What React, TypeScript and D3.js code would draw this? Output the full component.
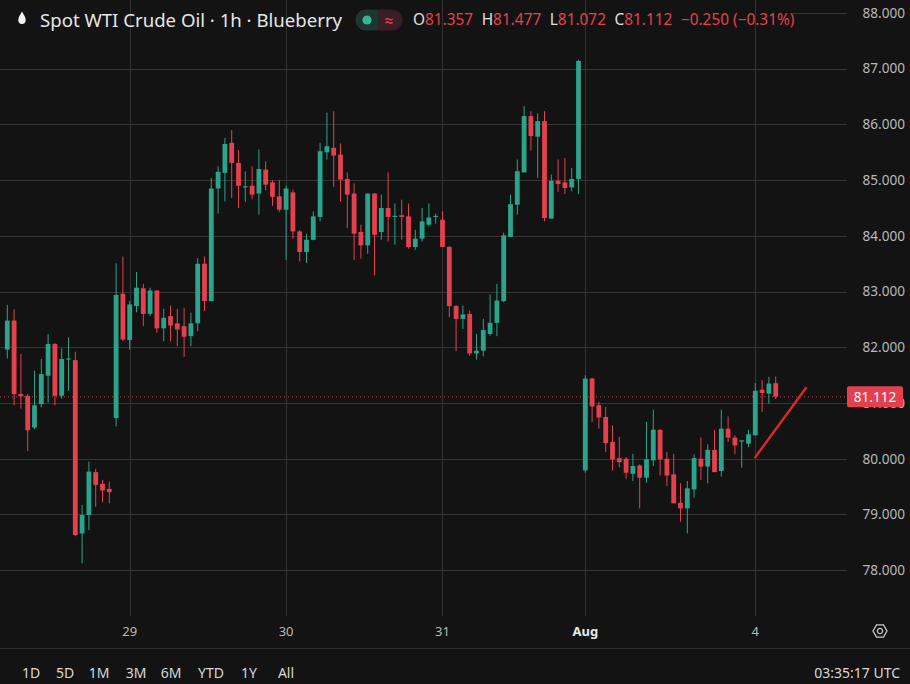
import React from 'react';
import * as d3 from 'd3';

const W = 910;
const H = 684;

// OHLC data, 1h bars (index 0 .. 113)
const opens = [
  81.96, 82.48, 81.16, 81.13, 80.56, 80.98, 81.49, 82.06, 81.13, 81.78,
  81.77, 78.66, 78.99, 79.76, 79.55, 79.46, 80.73, 82.96, 82.13, 82.74,
  83.06, 82.60, 83.02, 82.34, 82.56, 82.43, 82.38, 82.20, 82.43, 83.50,
  82.83, 84.85, 85.13, 85.67, 85.31, 84.87, 84.90, 84.76, 85.19, 84.96,
  84.71, 84.47, 84.78, 84.08, 83.71, 83.93, 84.34, 85.50, 85.58, 85.46,
  85.02, 84.76, 84.07, 83.83, 84.76, 84.07, 84.50, 84.34, 84.37, 84.35,
  83.80, 83.95, 84.20, 84.34, 84.29, 83.80, 82.74, 82.51, 82.60, 81.89,
  81.94, 82.24, 82.44, 82.83, 83.98, 84.56, 85.14, 86.15, 85.78, 86.06,
  84.31, 84.99, 84.96, 84.87, 85.02, 79.79, 81.44, 80.96, 80.75, 80.30,
  80.01, 80.00, 79.73, 79.88, 79.66, 79.97, 80.52, 80.00, 79.72, 79.21,
  79.11, 79.45, 80.00, 79.86, 80.16, 79.78, 80.54, 80.38, 80.31, 80.27,
  80.42, 81.24, 81.17, 81.357,
];
const highs = [
  82.76, 82.68, 81.88, 81.16, 81.58, 81.79, 82.24, 82.08, 81.98, 82.18,
  81.92, 79.17, 79.95, 79.82, 79.62, 79.59, 83.51, 83.63, 82.83, 83.35,
  83.14, 83.07, 83.03, 82.69, 82.75, 82.69, 82.71, 82.62, 83.60, 83.63,
  85.04, 85.25, 85.76, 85.90, 85.54, 85.16, 85.25, 85.55, 85.34, 85.00,
  85.00, 84.90, 84.83, 84.10, 84.04, 84.44, 85.67, 86.21, 86.24, 85.66,
  85.14, 84.94, 84.20, 84.76, 84.77, 84.74, 85.14, 84.58, 84.65, 84.58,
  84.11, 84.50, 84.58, 84.40, 84.44, 83.82, 82.76, 82.75, 82.66, 82.24,
  82.51, 82.95, 83.14, 84.06, 84.74, 85.37, 86.33, 86.24, 86.20, 86.24,
  85.10, 85.37, 85.40, 85.22, 87.16, 81.50, 81.45, 81.02, 80.93, 80.60,
  80.39, 80.03, 80.09, 79.90, 80.66, 80.88, 80.53, 80.12, 80.09, 79.56,
  79.60, 80.08, 80.38, 80.26, 80.52, 80.88, 80.76, 80.42, 80.34, 80.52,
  81.36, 81.41, 81.47, 81.477,
];
const lows = [
  81.80, 80.96, 80.90, 80.14, 80.53, 80.92, 81.01, 80.96, 81.08, 81.22,
  78.61, 78.12, 78.72, 79.14, 79.22, 79.20, 80.58, 82.11, 81.96, 82.63,
  82.38, 82.56, 82.26, 82.11, 82.11, 82.02, 81.83, 82.02, 82.29, 82.65,
  82.82, 84.40, 84.62, 84.68, 84.50, 84.61, 84.66, 84.38, 84.82, 84.54,
  84.43, 83.57, 83.95, 83.54, 83.51, 83.92, 84.26, 85.37, 84.88, 84.62,
  84.14, 83.57, 83.59, 83.68, 83.29, 83.93, 83.90, 83.84, 83.93, 83.77,
  83.75, 83.90, 84.17, 84.22, 83.80, 82.54, 81.93, 82.33, 81.85, 81.78,
  81.84, 82.21, 82.20, 82.81, 83.98, 84.38, 85.14, 85.53, 85.04, 84.26,
  84.31, 84.79, 84.75, 84.80, 84.75, 79.75, 80.66, 80.54, 80.12, 79.79,
  79.85, 79.64, 79.60, 79.11, 79.57, 79.87, 79.70, 79.51, 79.20, 78.87,
  78.66, 79.30, 79.62, 79.56, 79.76, 79.68, 80.30, 80.08, 79.84, 80.21,
  80.42, 80.84, 80.99, 81.072,
];
const closes = [
  82.48, 81.16, 81.12, 80.51, 80.96, 81.52, 82.06, 81.13, 81.79, 81.80,
  78.63, 78.99, 79.77, 79.53, 79.43, 79.40, 82.94, 82.14, 82.77, 83.07,
  82.60, 83.02, 82.34, 82.53, 82.39, 82.32, 82.19, 82.43, 83.50, 82.83,
  84.85, 85.15, 85.65, 85.31, 84.90, 84.89, 84.74, 85.20, 84.92, 84.70,
  84.47, 84.85, 84.08, 83.71, 83.93, 84.35, 85.52, 85.61, 85.44, 85.01,
  84.74, 84.04, 83.83, 84.76, 84.02, 84.50, 84.34, 84.36, 84.34, 83.80,
  83.95, 84.26, 84.33, 84.36, 83.80, 82.74, 82.51, 82.59, 81.89, 81.94,
  82.31, 82.44, 82.84, 84.01, 84.57, 85.16, 86.15, 85.79, 86.06, 84.32,
  84.99, 84.93, 84.86, 85.02, 87.14, 81.44, 80.94, 80.74, 80.28, 79.99,
  79.94, 79.75, 79.87, 79.66, 79.99, 80.52, 79.99, 79.70, 79.20, 79.11,
  79.47, 80.01, 79.86, 80.16, 79.76, 80.54, 80.38, 80.24, 80.33, 80.44,
  81.22, 81.18, 81.35, 81.112,
];

const priceTicks = [78, 79, 80, 81, 82, 83, 84, 85, 86, 87, 88];
const dayLabels = ['29', '30', '31', 'Aug', '4'];
const dayBars = [18, 41, 64, 85, 110];
const rangeButtons = ['1D', '5D', '1M', '3M', '6M', 'YTD', '1Y', 'All'];
const trendBars = [110, 117.45];
const trendPrices = [80.03, 81.27];
const lastPrice = 81.112;
const legendValues = ['81.357', '81.477', '81.072', '81.112'];
const legendKeys = ['O', 'H', 'L', 'C'];
const changeText = '−0.250 (−0.31%)';

// layout
const BG = '#131313';
const GRID = '#343434';
const UP = '#2ba48b';
const DOWN = '#e4414f';
const FONT = '"Noto Sans", Roboto, sans-serif';
const plotRight = 847;
const buttonX = [31, 65, 99, 136, 171, 211, 249, 286];

export default function App() {
  const n = opens.length;
  const x = d3.scaleLinear().domain([0, n - 1]).range([7.3, 7.3 + (n - 1) * 6.8]);
  const y = d3.scaleLinear().domain([78, 88]).range([570.2, 13]);
  const bodyW = 4.8;
  const fmt = d3.format('.3f');
  const trend = d3.line<number>()
    .x((_, i) => x(trendBars[i]))
    .y((d) => y(d));

  return (
    <svg width={W} height={H} viewBox={`0 0 ${W} ${H}`}
      style={{ position: 'absolute', left: 0, top: 0, display: 'block' }}
      fontFamily={FONT}>
      <rect x={0} y={0} width={W} height={H} fill={BG} />
      {/* horizontal grid */}
      {priceTicks.map((p) => (
        <line key={'h' + p} x1={0} x2={plotRight} y1={Math.round(y(p)) + 0.5} y2={Math.round(y(p)) + 0.5}
          stroke={GRID} strokeWidth={1} />
      ))}
      {/* legend backdrop hiding grid under legend */}
      <rect x={0} y={4} width={793} height={22} fill={BG} />
      {/* vertical grid */}
      {dayBars.map((b) => (
        <line key={'v' + b} x1={Math.round(x(b)) + 0.5} x2={Math.round(x(b)) + 0.5} y1={0} y2={616}
          stroke={GRID} strokeWidth={1} />
      ))}
      {/* last price dotted line */}
      <line x1={0} x2={plotRight} y1={y(lastPrice)} y2={y(lastPrice)} stroke={DOWN}
        strokeWidth={1} strokeDasharray="1,3" opacity={0.85} />
      {/* candles */}
      {opens.map((o, i) => {
        const c = closes[i];
        const up = c >= o;
        const col = up ? UP : DOWN;
        const cx = x(i);
        const top = y(Math.max(o, c));
        const bot = y(Math.min(o, c));
        return (
          <g key={'c' + i}>
            <line x1={cx} x2={cx} y1={y(highs[i])} y2={y(lows[i])} stroke={col} strokeWidth={1} />
            <rect x={cx - bodyW / 2} y={top} width={bodyW} height={Math.max(1, bot - top)} fill={col} />
          </g>
        );
      })}
      {/* trend line */}
      <path d={trend(trendPrices) || ''} stroke="#e0262c" strokeWidth={2.4} fill="none" strokeLinecap="round" />
      {/* price axis labels */}
      {priceTicks.map((p) => (
        <text key={'t' + p} x={905} y={y(p)} dy="0.35em" textAnchor="end" fontSize={13.6} fill="#b8b8b8">
          {fmt(p)}
        </text>
      ))}
      {/* last price label */}
      <rect x={plotRight} y={y(lastPrice) - 10.5} width={56} height={21} rx={2} fill={DOWN} />
      <text x={plotRight + 28} y={y(lastPrice)} dy="0.35em" textAnchor="middle" fontSize={13.6}
        fill="#ffffff">{fmt(lastPrice)}</text>
      {/* time axis labels */}
      {dayLabels.map((d, i) => (
        <text key={'d' + d} x={x(dayBars[i])} y={631} dy="0.35em" textAnchor="middle" fontSize={13}
          fill={d === 'Aug' ? '#e8e8e8' : '#b8b8b8'} fontWeight={d === 'Aug' ? 700 : 400}>
          {d}
        </text>
      ))}
      {/* gear icon */}
      <g transform="translate(880,631)" fill="none" stroke="#c8c8c8" strokeWidth={1.3}>
        <path d={d3.range(6).map((k) => {
          const a = Math.PI / 3 * k;
          return (k === 0 ? 'M' : 'L') + (7 * Math.cos(a)).toFixed(2) + ',' + (7 * Math.sin(a)).toFixed(2);
        }).join('') + 'Z'} />
        <circle r={2.6} />
      </g>
      {/* separator */}
      <line x1={0} x2={W} y1={648.5} y2={648.5} stroke="#2c2c2c" strokeWidth={1} />
      {/* bottom toolbar */}
      {rangeButtons.map((b, i) => (
        <text key={'b' + b} x={buttonX[i]} y={673} dy="0.35em" textAnchor="middle" fontSize={14}
          fill="#d8d8d8">{b}</text>
      ))}
      <text x={900} y={673} dy="0.35em" textAnchor="end" fontSize={14} fill="#d8d8d8">03:35:17 UTC</text>
      {/* legend */}
      <path d="M22,11.5 C20,15 18.3,17.3 18.3,20.2 A3.7,3.7 0 0 0 25.7,20.2 C25.7,17.3 24,15 22,11.5 Z" fill="#f2f2f2" />
      <text x={40} y={20} dy="0.35em" fontSize={18.6} fill="#e6e6e6">Spot WTI Crude Oil · 1h · Blueberry</text>
      <g>
        <path d="M366,9.5 H378 V30.5 H366 A10.5,10.5 0 0 1 366,9.5 Z" fill="#1d3630" />
        <path d="M378,9.5 H392 A10.5,10.5 0 0 1 392,30.5 H378 Z" fill="#3a1d26" />
        <circle cx={367} cy={20} r={4.6} fill="#3ab592" />
        <text x={389} y={20} dy="0.35em" textAnchor="middle" fontSize={16} fill="#e4415a">≈</text>
      </g>
      <text x={413} y={20} dy="0.35em" fontSize={15.4}>
        {legendKeys.map((k, i) => (
          <React.Fragment key={'l' + k}>
            <tspan fill="#e0e0e0" dx={i === 0 ? 0 : 8.5}>{k}</tspan>
            <tspan fill={DOWN}>{legendValues[i]}</tspan>
          </React.Fragment>
        ))}
        <tspan fill={DOWN} dx={8.5}>{changeText}</tspan>
      </text>
    </svg>
  );
}
